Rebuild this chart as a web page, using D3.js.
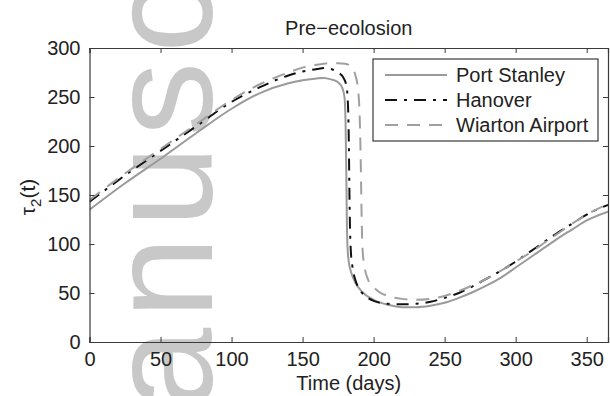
<!DOCTYPE html>
<html>
<head>
<meta charset="utf-8">
<script src="https://cdn.jsdelivr.net/npm/d3@7"></script>
<style>
  body { margin: 0; background: #fff; }
  text { font-family: "Liberation Sans", Arial, sans-serif; fill: #222; }
</style>
</head>
<body>
<div id="chart"></div>
<script>
// days and tau_2(t) values
var psDays = [0, 25, 50, 75, 100, 120, 140, 150, 160, 165, 170, 175, 178, 179.5, 180.3, 180.8, 181.2, 181.7, 182.5, 184, 187, 192, 200, 210, 220, 230, 240, 250, 260, 270, 280, 290, 300, 310, 320, 330, 340, 350, 365];
var psVals = [135, 162, 187, 213, 238, 254, 264, 267, 269, 269.5, 268, 265, 259, 250, 220, 170, 120, 95, 82, 72, 61, 51, 43, 38, 35.5, 35.5, 37, 40, 45, 51, 58, 66, 76, 86, 96, 106, 115, 124, 133];

var hanDays = [0, 25, 50, 75, 100, 120, 140, 150, 160, 165, 170, 175, 179, 181, 182, 182.6, 183, 183.4, 184, 185, 187, 190, 195, 200, 210, 220, 230, 240, 250, 260, 270, 280, 290, 300, 310, 320, 330, 340, 350, 365];
var hanVals = [143, 170, 195, 220, 245, 260, 272, 276, 278.5, 279.5, 278.5, 275, 269, 260, 240, 200, 150, 115, 92, 78, 64, 54, 46, 42, 39, 38.5, 39, 41, 45, 50, 57, 65, 73, 82, 92, 102, 112, 121, 130, 140];

var wiaDays = [0, 25, 50, 75, 100, 120, 140, 150, 160, 165, 170, 175, 180, 184, 187, 189, 190.2, 191, 191.6, 192.2, 193.5, 196, 200, 205, 210, 220, 230, 240, 250, 260, 270, 280, 290, 300, 310, 320, 330, 340, 350, 365];
var wiaVals = [145, 172, 197, 222, 247, 263, 275, 280, 283, 284, 284.5, 284.5, 284, 281, 273, 258, 230, 180, 125, 95, 78, 64, 56, 50, 47, 44, 43, 44, 47, 52, 58, 65, 73, 82, 91, 101, 111, 121, 130, 141];

var seriesNames = ["Port Stanley", "Hanover", "Wiarton Airport"];
var xTicks = [0, 50, 100, 150, 200, 250, 300, 350];
var yTicks = [0, 50, 100, 150, 200, 250, 300];

var W = 610, H = 396;
var margin = { top: 48, right: 2, bottom: 54, left: 89.5 };
var width = W - margin.left - margin.right,
    height = H - margin.top - margin.bottom;

var series = [
    { name: seriesNames[0], days: psDays, vals: psVals, color: "#9a9a9a", dash: null },
    { name: seriesNames[1], days: hanDays, vals: hanVals, color: "#111", dash: "12,7,3,7" },
    { name: seriesNames[2], days: wiaDays, vals: wiaVals, color: "#a0a0a0", dash: "13,9" }
];

var root = d3.select("#chart").append("svg")
    .attr("width", W)
    .attr("height", H);

// faint "manuscript" watermark behind the chart
root.append("text")
    .attr("transform", "translate(212,410) rotate(-90)")
    .style("font-size", "148px")
    .style("letter-spacing", "9px")
    .style("fill", "#c8c8c8")
    .text("anuscript");

var svg = root.append("g")
    .attr("transform", "translate(" + margin.left + "," + margin.top + ")");

var x = d3.scaleLinear().domain([0, 365]).range([0, width]);
var y = d3.scaleLinear().domain([0, 300]).range([height, 0]);

var line = d3.line()
    .curve(d3.curveMonotoneX)
    .x(function (d) { return x(d[0]); })
    .y(function (d) { return y(d[1]); });

svg.append("clipPath").attr("id", "clip")
    .append("rect").attr("width", width).attr("height", height);

series.forEach(function (s) {
    var pts = s.days.map(function (d, i) { return [d, s.vals[i]]; });
    svg.append("path")
        .datum(pts)
        .attr("clip-path", "url(#clip)")
        .attr("fill", "none")
        .attr("stroke", s.color)
        .attr("stroke-width", 2)
        .attr("stroke-dasharray", s.dash)
        .attr("d", line);
});

// box axes, ticks inward on all sides
var tickLen = 5;
var axisColor = "#3a3a3a";

var xb = svg.append("g").attr("transform", "translate(0," + height + ")")
    .call(d3.axisBottom(x).tickValues(xTicks).tickSize(-tickLen).tickPadding(10));
var xt = svg.append("g")
    .call(d3.axisTop(x).tickValues(xTicks).tickSize(-tickLen).tickFormat(""));
var yl = svg.append("g")
    .call(d3.axisLeft(y).tickValues(yTicks).tickSize(-tickLen).tickPadding(9));
var yr = svg.append("g").attr("transform", "translate(" + width + ",0)")
    .call(d3.axisRight(y).tickValues(yTicks).tickSize(-tickLen).tickFormat(""));

[xb, xt, yl, yr].forEach(function (g) {
    g.select(".domain").attr("stroke", axisColor).attr("stroke-width", 1.2);
    g.selectAll(".tick line").attr("stroke", axisColor);
    g.selectAll(".tick text")
        .style("font-family", "'Liberation Sans', Arial, sans-serif")
        .style("font-size", "20px")
        .attr("fill", "#222");
});

// title and axis labels
root.append("text")
    .attr("x", margin.left + width / 2)
    .attr("y", 35)
    .attr("text-anchor", "middle")
    .style("font-size", "20px")
    .text("Pre\u2212ecolosion");

root.append("text")
    .attr("x", margin.left + width / 2)
    .attr("y", 390)
    .attr("text-anchor", "middle")
    .style("font-size", "20px")
    .text("Time (days)");

var ylab = root.append("text")
    .attr("transform", "translate(35,197) rotate(-90)")
    .attr("text-anchor", "middle")
    .style("font-size", "21px");
ylab.append("tspan").text("\u03c4");
ylab.append("tspan").attr("dy", 6).style("font-size", "15px").text("2");
ylab.append("tspan").attr("dy", -6).text("(t)");

// legend
var legend = root.append("g").attr("transform", "translate(373,59)");
legend.append("rect")
    .attr("width", 225)
    .attr("height", 82)
    .attr("fill", "#fff")
    .attr("stroke", axisColor)
    .attr("stroke-width", 1.2);

series.forEach(function (s, i) {
    var cy = 16 + i * 25;
    legend.append("line")
        .attr("x1", 12).attr("x2", 74)
        .attr("y1", cy).attr("y2", cy)
        .attr("stroke", s.color)
        .attr("stroke-width", 2)
        .attr("stroke-dasharray", s.dash);
    legend.append("text")
        .attr("x", 83)
        .attr("y", cy + 7)
        .style("font-size", "20px")
        .text(s.name);
});
</script>
</body>
</html>
